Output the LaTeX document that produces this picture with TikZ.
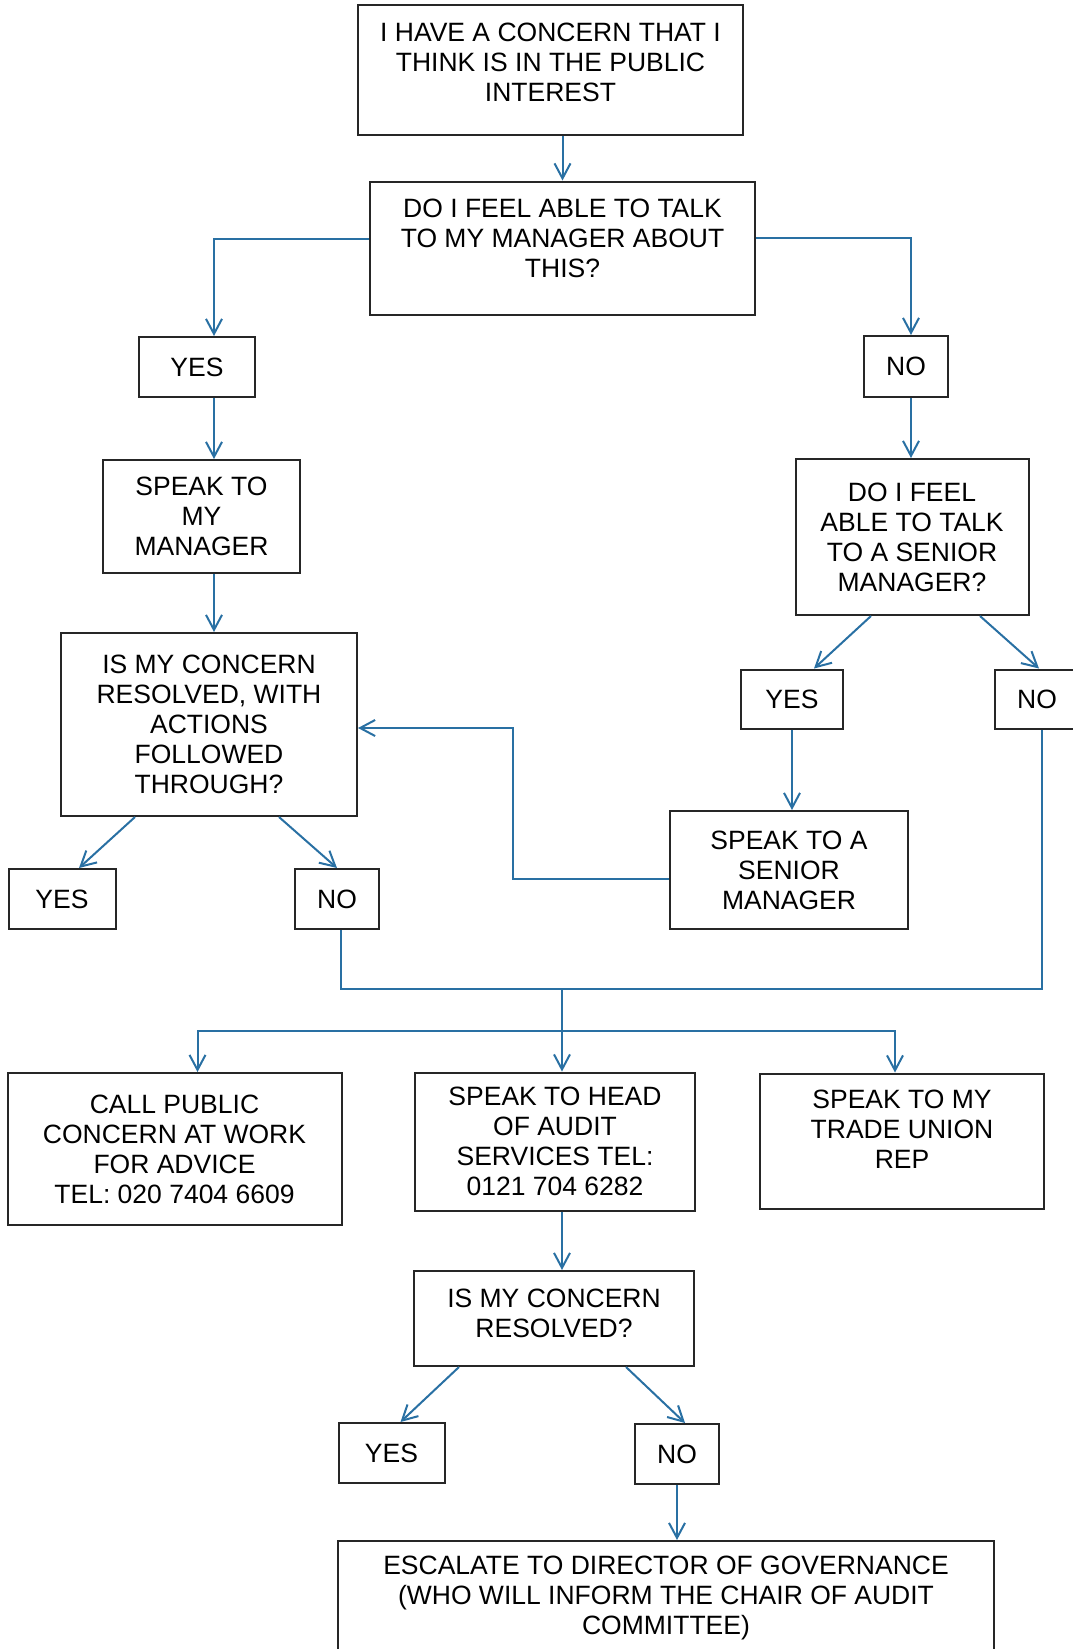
\documentclass[tikz,border=0pt]{standalone}
\usepackage{fontspec}
\setmainfont{Liberation Sans}
\usetikzlibrary{arrows.meta}
\definecolor{flowblue}{RGB}{41,112,163}
\begin{document}
\begin{tikzpicture}[x=1pt, y=-1pt, font=\fontsize{26.5}{30}\selectfont,
  >={Straight Barb[length=15pt,width=16pt]},
  box/.style={draw=black!85, line width=2pt, align=center, inner sep=0pt},
  wire/.style={draw=flowblue, line width=2pt},
  link/.style={wire, ->}]
\clip (0,0) rectangle (1073,1649);
% boxes
\node[box, minimum width=385, minimum height=130] (concern) at (550.5,70) {I HAVE A CONCERN THAT I\\THINK IS IN THE PUBLIC\\INTEREST\\[-14pt]~};
\node[box, minimum width=385, minimum height=133] (talk) at (562.5,248) {DO I FEEL ABLE TO TALK\\TO MY MANAGER ABOUT\\THIS?\\[-10pt]~};
\node[box, minimum width=116, minimum height=60] (yesA) at (197,367) {YES};
\node[box, minimum width=84, minimum height=61] (noA) at (906,366.5) {NO};
\node[box, minimum width=197, minimum height=113] (speak) at (201.5,516.5) {SPEAK TO\\MY\\MANAGER};
\node[box, minimum width=296, minimum height=183] (isres) at (209,724.5) {IS MY CONCERN\\RESOLVED, WITH\\ACTIONS\\FOLLOWED\\THROUGH?};
\node[box, minimum width=107, minimum height=60] (yesB) at (62,899) {YES};
\node[box, minimum width=84, minimum height=60] (noB) at (337,899) {NO};
\node[box, minimum width=233, minimum height=156] (askSenior) at (912,537) {DO I FEEL\\ABLE TO TALK\\TO A SENIOR\\MANAGER?};
\node[box, minimum width=102, minimum height=59] (yesC) at (792,699) {YES};
\node[box, minimum width=84, minimum height=59] (noC) at (1037,699) {NO};
\node[box, minimum width=238, minimum height=118] (speakSenior) at (789,870) {SPEAK TO A\\SENIOR\\MANAGER};
\node[box, minimum width=334, minimum height=152] (callPCAW) at (174.5,1149) {CALL PUBLIC\\CONCERN AT WORK\\FOR ADVICE\\TEL: 020 7404 6609};
\node[box, minimum width=280, minimum height=138] (headAudit) at (555,1141.5) {SPEAK TO HEAD\\OF AUDIT\\SERVICES TEL:\\0121 704 6282};
\node[box, minimum width=284, minimum height=135] (union) at (902,1141) {SPEAK TO MY\\TRADE UNION\\REP\\[-7pt]~};
\node[box, minimum width=280, minimum height=95] (resolved) at (554,1318.5) {IS MY CONCERN\\RESOLVED?\\[-20pt]~};
\node[box, minimum width=106, minimum height=60] (yesD) at (391.5,1453) {YES};
\node[box, minimum width=84, minimum height=60] (noD) at (677,1454) {NO};
\node[box, minimum width=656, minimum height=114] (escalate) at (666,1598) {ESCALATE TO DIRECTOR OF GOVERNANCE\\(WHO WILL INFORM THE CHAIR OF AUDIT\\COMMITTEE)};
% connectors
\coordinate (lcol) at (214,0);
\coordinate (rcol) at (911,0);
\coordinate (loop) at (513,728);
\coordinate (merge) at (562,989);
\coordinate (split) at (562,1031);
\draw[link] (concern.south -| talk.north) -- (talk.north);
\draw[link] ([yshift=9pt]talk.west) -| (lcol |- yesA.north);
\draw[link] ([yshift=10pt]talk.east) -| (rcol |- noA.north);
\draw[link] (lcol |- yesA.south) -- (lcol |- speak.north);
\draw[link] (lcol |- speak.south) -- (lcol |- isres.north);
\draw[link] (rcol |- noA.south) -- (rcol |- askSenior.north);
\draw[link] ([xshift=-74pt]isres.south) -- ([xshift=17pt]yesB.north);
\draw[link] ([xshift=70pt]isres.south) -- (noB.north);
\draw[link] ([xshift=-41pt]askSenior.south) -- ([xshift=22pt]yesC.north);
\draw[link] ([xshift=68pt]askSenior.south) -- ([xshift=2pt]noC.north);
\draw[link] (yesC.south) -- (yesC.south |- speakSenior.north);
\draw[link] ([yshift=-9pt]speakSenior.west) -| (loop) -- (loop -| isres.east);
\draw[wire] ([xshift=4pt]noB.south) |- (merge) -| ([xshift=5pt]noC.south);
\draw[wire] (merge) -- (split);
\draw[link] (split) -| ([xshift=23pt]callPCAW.north);
\draw[link] (split) -| ([xshift=-7pt]union.north);
\draw[link] (split) -- (split |- headAudit.north);
\draw[link] (split |- headAudit.south) -- (split |- resolved.north);
\draw[link] ([xshift=-95pt]resolved.south) -- ([xshift=9pt]yesD.north);
\draw[link] ([xshift=72pt]resolved.south) -- ([xshift=8pt]noD.north);
\draw[link] (noD.south) -- (noD.south |- escalate.north);
\end{tikzpicture}
\end{document}
